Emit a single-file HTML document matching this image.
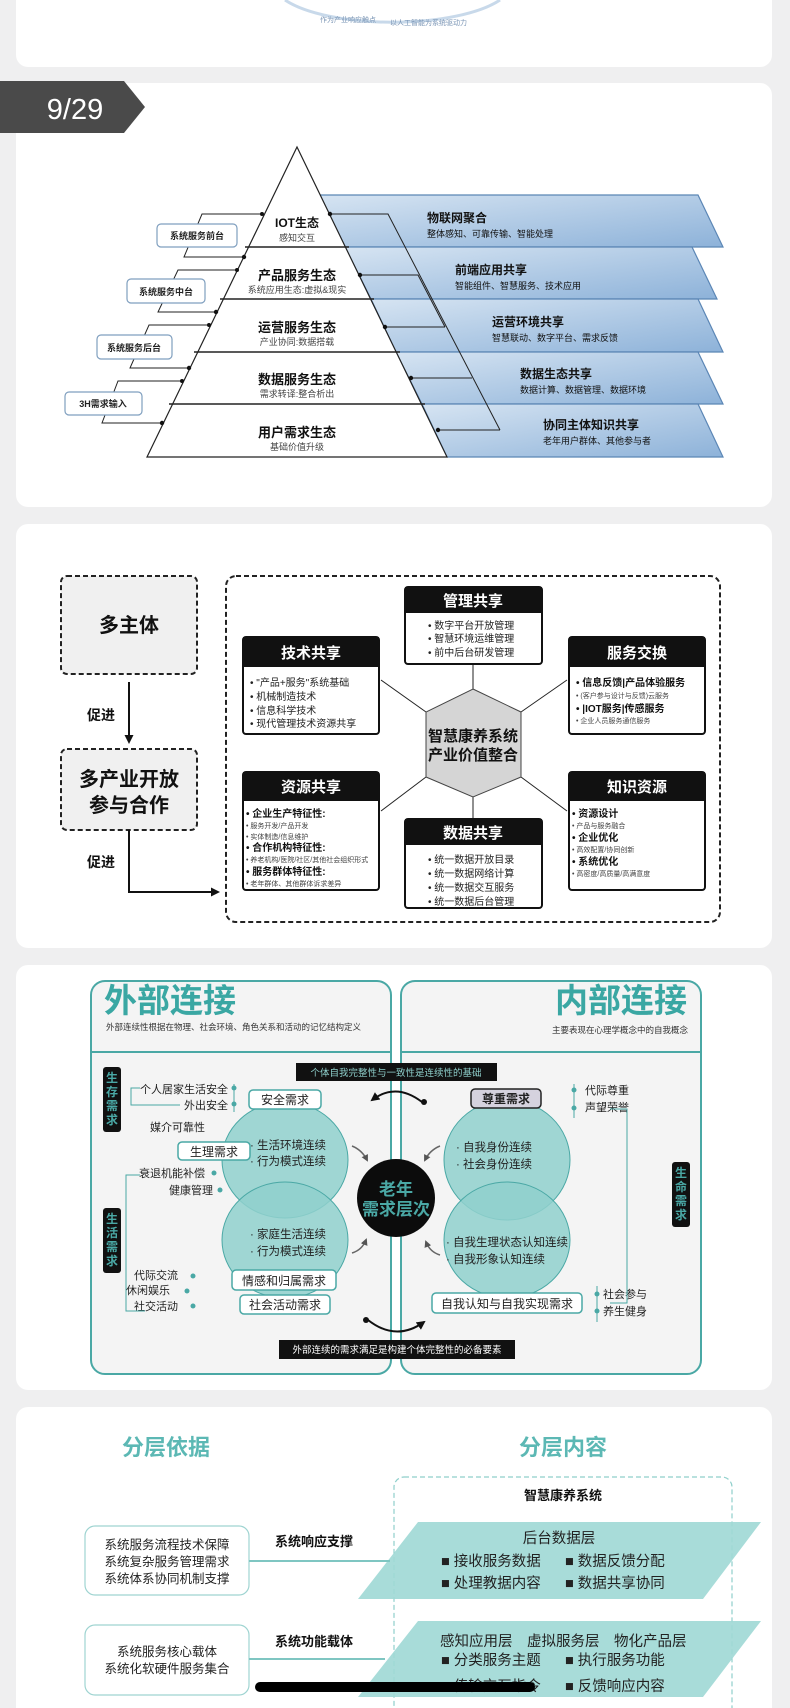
<!DOCTYPE html>
<html><head><meta charset="utf-8">
<style>
html,body{margin:0;padding:0;background:#efeff0;}
svg{display:block;font-family:"Liberation Sans","Noto Sans CJK SC",sans-serif;}
</style></head>
<body>
<svg width="790" height="1708" viewBox="0 0 790 1708" xmlns="http://www.w3.org/2000/svg">
<defs>
<linearGradient id="bl" x1="0" y1="0" x2="1" y2="1">
<stop offset="0" stop-color="#d6e4f2"/><stop offset="1" stop-color="#8db2d9"/></linearGradient>
<marker id="ah" markerUnits="userSpaceOnUse" markerWidth="9" markerHeight="9" refX="7" refY="4.5" orient="auto"><path d="M0,0 L9,4.5 L0,9 z" fill="#111"/></marker>
<marker id="ag" markerUnits="userSpaceOnUse" markerWidth="7" markerHeight="7" refX="5" refY="3.5" orient="auto"><path d="M0,0 L7,3.5 L0,7 z" fill="#555"/></marker>
</defs>
<rect width="790" height="1708" fill="#efeff0"/>
<!-- card 1 -->
<rect x="16" y="-20" width="756" height="87" rx="12" fill="#fff"/>
<path d="M285,0 A120,40 0 0 0 500,0" fill="none" stroke="#c8d9ea" stroke-width="3"/>
<text x="320" y="22" font-size="7" fill="#7a95b5">作为产业响应触点</text>
<text x="390" y="25" font-size="7" fill="#7a95b5">以人工智能为系统驱动力</text>
<!-- card 2 -->
<rect x="16" y="83" width="756" height="424" rx="12" fill="#fff"/>
<path d="M0,81 L124,81 L145,107 L124,133 L0,133 z" fill="#4a4a4a"/>
<text x="75" y="119" font-size="29" fill="#fff" text-anchor="middle">9/29</text>
<g stroke="#5b86b5" stroke-width="1.2" fill="url(#bl)">
<path d="M320,195 L698,195 L723,247 L345,247 z"/>
<path d="M345,247 L692,247 L717,299 L371,299 z"/>
<path d="M371,299 L698,299 L723,352 L396,352 z"/>
<path d="M396,352 L698,352 L723,404 L422,404 z"/>
<path d="M422,404 L698,404 L723,457 L447,457 z"/>
</g>
<path d="M297,147 L447,457 L147,457 z" fill="#fff" stroke="#222" stroke-width="1.2"/>
<g stroke="#222" stroke-width="1.5">
<line x1="245" y1="247" x2="349" y2="247"/><line x1="220" y1="299" x2="374" y2="299"/>
<line x1="194" y1="352" x2="400" y2="352"/><line x1="169" y1="404" x2="425" y2="404"/>
</g>
<g text-anchor="middle" fill="#111">
<text x="297" y="227" font-size="12" font-weight="bold">IOT生态</text><text x="297" y="241" font-size="9" fill="#444">感知交互</text>
<text x="297" y="280" font-size="13" font-weight="bold">产品服务生态</text><text x="297" y="293" font-size="9" fill="#444">系统应用生态:虚拟&amp;现实</text>
<text x="297" y="332" font-size="13" font-weight="bold">运营服务生态</text><text x="297" y="345" font-size="9" fill="#444">产业协同:数据搭载</text>
<text x="297" y="384" font-size="13" font-weight="bold">数据服务生态</text><text x="297" y="397" font-size="9" fill="#444">需求转译:整合析出</text>
<text x="297" y="437" font-size="13" font-weight="bold">用户需求生态</text><text x="297" y="450" font-size="9" fill="#444">基础价值升级</text>
</g>
<g fill="#111">
<text x="427" y="222" font-size="12" font-weight="bold">物联网聚合</text><text x="427" y="237" font-size="9">整体感知、可靠传输、智能处理</text>
<text x="455" y="274" font-size="12" font-weight="bold">前端应用共享</text><text x="455" y="289" font-size="9">智能组件、智慧服务、技术应用</text>
<text x="492" y="326" font-size="12" font-weight="bold">运营环境共享</text><text x="492" y="341" font-size="9">智慧联动、数字平台、需求反馈</text>
<text x="520" y="378" font-size="12" font-weight="bold">数据生态共享</text><text x="520" y="393" font-size="9">数据计算、数据管理、数据环境</text>
<text x="543" y="429" font-size="12" font-weight="bold">协同主体知识共享</text><text x="543" y="444" font-size="9">老年用户群体、其他参与者</text>
</g>
<g stroke="#222" stroke-width="1" fill="none">
<path d="M330,214 L388,214 L500,430"/><path d="M360,275 L418,275 L445,327"/>
<path d="M385,327 L445,327"/><path d="M411,378 L472,378"/><path d="M438,430 L500,430"/>
<path d="M262,214 L202,214 L184,257 L244,257"/>
<path d="M237,270 L178,270 L158,312 L216,312"/>
<path d="M209,325 L149,325 L130,368 L189,368"/>
<path d="M182,381 L118,381 L102,423 L162,423"/>
</g>
<g fill="#111"><circle cx="330" cy="214" r="2.2"/><circle cx="360" cy="275" r="2.2"/><circle cx="385" cy="327" r="2.2"/><circle cx="411" cy="378" r="2.2"/><circle cx="438" cy="430" r="2.2"/>
<circle cx="262" cy="214" r="2"/><circle cx="244" cy="257" r="2.2"/><circle cx="237" cy="270" r="2"/><circle cx="216" cy="312" r="2.2"/><circle cx="209" cy="325" r="2"/><circle cx="189" cy="368" r="2.2"/><circle cx="182" cy="381" r="2"/><circle cx="162" cy="423" r="2.2"/></g>
<g fill="#fff" stroke="#7f9fbf" stroke-width="1.2">
<rect x="157" y="224" width="80" height="23" rx="4"/><rect x="127" y="279" width="78" height="24" rx="4"/>
<rect x="97" y="335" width="75" height="24" rx="4"/><rect x="65" y="392" width="77" height="23" rx="4"/>
</g>
<g font-size="9" font-weight="bold" text-anchor="middle" fill="#222">
<text x="197" y="239">系统服务前台</text><text x="166" y="295">系统服务中台</text><text x="134" y="351">系统服务后台</text><text x="103" y="407">3H需求输入</text>
</g>
<!-- card 3 -->
<rect x="16" y="524" width="756" height="424" rx="12" fill="#fff"/>
<g stroke="#222" stroke-width="2" stroke-dasharray="5,3" fill="#f0f0f0">
<rect x="61" y="576" width="136" height="98" rx="6"/><rect x="61" y="749" width="136" height="81" rx="6"/>
<rect x="226" y="576" width="494" height="346" rx="10" fill="none"/>
</g>
<text x="129" y="632" font-size="20" font-weight="bold" text-anchor="middle" fill="#111">多主体</text>
<text x="129" y="786" font-size="20" font-weight="bold" text-anchor="middle" fill="#111">多产业开放</text>
<text x="129" y="812" font-size="20" font-weight="bold" text-anchor="middle" fill="#111">参与合作</text>
<text x="87" y="720" font-size="14" font-weight="bold" fill="#111">促进</text>
<text x="87" y="867" font-size="14" font-weight="bold" fill="#111">促进</text>
<line x1="129" y1="682" x2="129" y2="742" stroke="#111" stroke-width="2" marker-end="url(#ah)"/>
<path d="M129,830 L129,892 L218,892" fill="none" stroke="#111" stroke-width="2" marker-end="url(#ah)"/>
<g stroke="#222" stroke-width="1">
<line x1="473" y1="664" x2="473" y2="689"/><line x1="426" y1="712" x2="381" y2="680"/>
<line x1="521" y1="712" x2="567" y2="680"/><line x1="426" y1="777" x2="381" y2="811"/>
<line x1="521" y1="777" x2="567" y2="811"/><line x1="473" y1="797" x2="473" y2="819"/>
</g>
<path d="M473,689 L521,712 L521,777 L473,797 L426,777 L426,712 z" fill="#d5d5d5" stroke="#444"/>
<text x="473" y="741" font-size="15" font-weight="bold" text-anchor="middle" fill="#111">智慧康养系统</text>
<text x="473" y="760" font-size="15" font-weight="bold" text-anchor="middle" fill="#111">产业价值整合</text>
<g stroke="#111" stroke-width="2" fill="#fff">
<rect x="405" y="587" width="137" height="77" rx="3"/><rect x="243" y="637" width="136" height="97" rx="3"/>
<rect x="569" y="637" width="136" height="97" rx="3"/><rect x="243" y="772" width="136" height="118" rx="3"/>
<rect x="569" y="772" width="136" height="118" rx="3"/><rect x="405" y="819" width="137" height="89" rx="3"/>
</g>
<g fill="#111">
<rect x="405" y="587" width="137" height="26"/><rect x="243" y="637" width="136" height="30"/>
<rect x="569" y="637" width="136" height="30"/><rect x="243" y="772" width="136" height="29"/>
<rect x="569" y="772" width="136" height="29"/><rect x="405" y="819" width="137" height="26"/>
</g>
<g fill="#fff" font-size="15" font-weight="bold" text-anchor="middle">
<text x="473" y="606">管理共享</text><text x="311" y="658">技术共享</text><text x="637" y="658">服务交换</text>
<text x="311" y="792">资源共享</text><text x="637" y="792">知识资源</text><text x="473" y="838">数据共享</text>
</g>
<g fill="#222" font-size="10">
<text x="428" y="629">•  数字平台开放管理</text><text x="428" y="642">•  智慧环境运维管理</text><text x="428" y="656">•  前中后台研发管理</text>
<text x="250" y="686">•  "产品+服务"系统基础</text><text x="250" y="700">•  机械制造技术</text><text x="250" y="714">•  信息科学技术</text><text x="250" y="727">•  现代管理技术资源共享</text>
<text x="428" y="863">•  统一数据开放目录</text><text x="428" y="877">•  统一数据网络计算</text><text x="428" y="891">•  统一数据交互服务</text><text x="428" y="905">•  统一数据后台管理</text>
</g>
<g fill="#111">
<text x="576" y="686" font-size="10" font-weight="bold">•  信息反馈|产品体验服务</text>
<text x="576" y="698" font-size="7" fill="#444">•  (客户参与设计与反馈)云服务</text>
<text x="576" y="712" font-size="10" font-weight="bold">•  |IOT服务|传感服务</text>
<text x="576" y="723" font-size="7" fill="#444">•  企业人员服务通信服务</text>
<text x="246" y="817" font-size="10" font-weight="bold">•  企业生产特征性:</text>
<text x="246" y="828" font-size="7" fill="#444">•  服务开发/产品开发</text>
<text x="246" y="839" font-size="7" fill="#444">•  实体制造/信息维护</text>
<text x="246" y="851" font-size="10" font-weight="bold">•  合作机构特征性:</text>
<text x="246" y="862" font-size="7" fill="#444">•  养老机构/医院/社区/其他社会组织形式</text>
<text x="246" y="875" font-size="10" font-weight="bold">•  服务群体特征性:</text>
<text x="246" y="886" font-size="7" fill="#444">•  老年群体、其他群体诉求差异</text>
<text x="572" y="817" font-size="10" font-weight="bold">•  资源设计</text>
<text x="572" y="828" font-size="7" fill="#444">•  产品与服务融合</text>
<text x="572" y="841" font-size="10" font-weight="bold">•  企业优化</text>
<text x="572" y="852" font-size="7" fill="#444">•  高效配置/协同创新</text>
<text x="572" y="865" font-size="10" font-weight="bold">•  系统优化</text>
<text x="572" y="876" font-size="7" fill="#444">•  高密度/高质量/高满意度</text>
</g>
<!-- card 4 -->
<rect x="16" y="965" width="756" height="425" rx="12" fill="#fff"/>
<g fill="#f4f4f4" stroke="#4aa8a5" stroke-width="2">
<rect x="91" y="981" width="300" height="393" rx="14"/><rect x="401" y="981" width="300" height="393" rx="14"/>
</g>
<line x1="91" y1="1052" x2="391" y2="1052" stroke="#4aa8a5" stroke-width="2"/>
<line x1="401" y1="1052" x2="701" y2="1052" stroke="#4aa8a5" stroke-width="2"/>
<text x="104" y="1012" font-size="33" font-weight="bold" fill="#3aa7a3">外部连接</text>
<text x="687" y="1012" font-size="33" font-weight="bold" fill="#3aa7a3" text-anchor="end">内部连接</text>
<text x="106" y="1030" font-size="8.5" fill="#333">外部连续性根据在物理、社会环境、角色关系和活动的记忆结构定义</text>
<text x="688" y="1033" font-size="8.5" fill="#333" text-anchor="end">主要表现在心理学概念中的自我概念</text>
<g fill="#8fd0cc" fill-opacity="0.85" stroke="#4aa8a5" stroke-width="1">
<ellipse cx="285" cy="1160" rx="63" ry="58"/><ellipse cx="285" cy="1240" rx="63" ry="58"/>
<ellipse cx="507" cy="1160" rx="63" ry="60"/><ellipse cx="507" cy="1240" rx="63" ry="58"/>
</g>
<circle cx="396" cy="1198" r="39" fill="#0c0c0c"/>
<text x="396" y="1195" font-size="17" font-weight="bold" fill="#4aa8a5" text-anchor="middle">老年</text>
<text x="396" y="1215" font-size="17" font-weight="bold" fill="#4aa8a5" text-anchor="middle">需求层次</text>
<rect x="296" y="1063" width="201" height="18" fill="#111"/>
<text x="396" y="1076" font-size="9.5" fill="#8fd0cc" text-anchor="middle">个体自我完整性与一致性是连续性的基础</text>
<rect x="279" y="1340" width="236" height="19" fill="#111"/>
<text x="397" y="1353" font-size="9.5" fill="#fff" text-anchor="middle">外部连续的需求满足是构建个体完整性的必备要素</text>
<g fill="none" stroke="#111" stroke-width="2">
<path d="M422,1102 Q396,1082 372,1100" marker-end="url(#ah)"/>
<path d="M368,1320 Q396,1342 424,1322" marker-end="url(#ah)"/>
</g>
<g fill="none" stroke="#666" stroke-width="1.5">
<path d="M352,1146 Q362,1150 367,1160" marker-end="url(#ag)"/>
<path d="M440,1146 Q430,1150 425,1160" marker-end="url(#ag)"/>
<path d="M352,1253 Q362,1250 366,1240" marker-end="url(#ag)"/>
<path d="M440,1255 Q430,1252 426,1242" marker-end="url(#ag)"/>
</g>
<circle cx="424" cy="1102" r="3" fill="#111"/><circle cx="366" cy="1320" r="3" fill="#111"/>
<g fill="#fff" stroke="#4aa8a5" stroke-width="1.5">
<rect x="249" y="1090" width="72" height="19" rx="4"/><rect x="178" y="1142" width="72" height="18" rx="4"/>
<rect x="232" y="1270" width="104" height="20" rx="4"/><rect x="240" y="1295" width="90" height="19" rx="4"/>
<rect x="432" y="1293" width="150" height="20" rx="4"/>
<rect x="471" y="1089" width="70" height="19" rx="4" fill="#d5d2de" stroke="#222"/>
</g>
<g font-size="12" fill="#222" text-anchor="middle">
<text x="285" y="1104">安全需求</text><text x="214" y="1156">生理需求</text><text x="284" y="1285">情感和归属需求</text>
<text x="285" y="1309">社会活动需求</text><text x="507" y="1308">自我认知与自我实现需求</text>
<text x="506" y="1103" font-weight="bold">尊重需求</text>
</g>
<g font-size="11.5" fill="#222">
<text x="250" y="1149">· 生活环境连续</text><text x="250" y="1165">· 行为模式连续</text>
<text x="250" y="1238">· 家庭生活连续</text><text x="250" y="1255">· 行为模式连续</text>
<text x="456" y="1151">· 自我身份连续</text><text x="456" y="1168">· 社会身份连续</text>
<text x="446" y="1246">· 自我生理状态认知连续</text><text x="446" y="1263">· 自我形象认知连续</text>
</g>
<g font-size="11" fill="#222" text-anchor="end">
<text x="228" y="1093">个人居家生活安全</text><text x="228" y="1109">外出安全</text><text x="205" y="1131">媒介可靠性</text>
<text x="205" y="1177">衰退机能补偿</text><text x="213" y="1194">健康管理</text>
<text x="178" y="1279">代际交流</text><text x="170" y="1294">休闲娱乐</text><text x="178" y="1310">社交活动</text>
</g>
<g font-size="11" fill="#222">
<text x="585" y="1094">代际尊重</text><text x="585" y="1111">声望荣誉</text>
<text x="603" y="1298">社会参与</text><text x="603" y="1315">养生健身</text>
</g>
<g fill="none" stroke="#4aa8a5" stroke-width="1">
<path d="M140,1088 L131,1088 L131,1105 L180,1105"/><path d="M140,1175 L126,1175 L126,1311 L145,1311"/>
<path d="M610,1109 L627,1109 L627,1303 L610,1303"/>
<line x1="234" y1="1084" x2="234" y2="1112"/><line x1="574" y1="1084" x2="574" y2="1118"/><line x1="597" y1="1286" x2="597" y2="1322"/>
</g>
<g fill="#4aa8a5"><circle cx="234" cy="1088" r="2.5"/><circle cx="234" cy="1104" r="2.5"/><circle cx="214" cy="1173" r="2.5"/><circle cx="220" cy="1190" r="2.5"/>
<circle cx="574" cy="1090" r="2.5"/><circle cx="574" cy="1108" r="2.5"/><circle cx="597" cy="1294" r="2.5"/><circle cx="597" cy="1311" r="2.5"/>
<circle cx="193" cy="1276" r="2.5"/><circle cx="187" cy="1291" r="2.5"/><circle cx="193" cy="1306" r="2.5"/></g>
<g fill="#111"><rect x="103" y="1067" width="18" height="65" rx="3"/><rect x="103" y="1208" width="18" height="65" rx="3"/><rect x="672" y="1162" width="18" height="65" rx="3"/></g>
<g fill="#4aa8a5" font-size="12" font-weight="bold" text-anchor="middle">
<text x="112" y="1082">生</text><text x="112" y="1096">存</text><text x="112" y="1110">需</text><text x="112" y="1124">求</text>
<text x="112" y="1223">生</text><text x="112" y="1237">活</text><text x="112" y="1251">需</text><text x="112" y="1265">求</text>
<text x="681" y="1177">生</text><text x="681" y="1191">命</text><text x="681" y="1205">需</text><text x="681" y="1219">求</text>
</g>
<!-- card 5 -->
<rect x="16" y="1407" width="756" height="320" rx="12" fill="#fff"/>
<text x="166" y="1455" font-size="22" font-weight="bold" fill="#5cb8b4" text-anchor="middle">分层依据</text>
<text x="563" y="1455" font-size="22" font-weight="bold" fill="#5cb8b4" text-anchor="middle">分层内容</text>
<rect x="394" y="1477" width="338" height="260" rx="10" fill="none" stroke="#8fcfcb" stroke-width="1.2" stroke-dasharray="5,3"/>
<text x="563" y="1500" font-size="13" font-weight="bold" fill="#111" text-anchor="middle">智慧康养系统</text>
<path d="M418,1522 L761,1522 L703,1599 L358,1599 z" fill="#9ed8d5" fill-opacity="0.9"/>
<path d="M418,1621 L761,1621 L703,1697 L358,1697 z" fill="#9ed8d5" fill-opacity="0.9"/>
<g font-size="14.5" fill="#222">
<text x="559" y="1543" text-anchor="middle">后台数据层</text>
<text x="441" y="1566">■ 接收服务数据</text><text x="565" y="1566">■ 数据反馈分配</text>
<text x="441" y="1588">■ 处理教据内容</text><text x="565" y="1588">■ 数据共享协同</text>
<text x="440" y="1646">感知应用层　虚拟服务层　物化产品层</text>
<text x="441" y="1665">■ 分类服务主题</text><text x="565" y="1665">■ 执行服务功能</text>
<text x="441" y="1691">■ 传输交互指令</text><text x="565" y="1691">■ 反馈响应内容</text>
</g>
<g fill="#fff" stroke="#9fd4d1" stroke-width="1.2">
<rect x="85" y="1526" width="164" height="69" rx="10"/><rect x="85" y="1625" width="164" height="70" rx="10"/>
</g>
<line x1="249" y1="1561" x2="390" y2="1561" stroke="#7fc6c2" stroke-width="2"/>
<line x1="249" y1="1659" x2="385" y2="1659" stroke="#7fc6c2" stroke-width="2"/>
<g font-size="12.5" fill="#222" text-anchor="middle">
<text x="167" y="1549">系统服务流程技术保障</text><text x="167" y="1566">系统复杂服务管理需求</text><text x="167" y="1583">系统体系协同机制支撑</text>
<text x="167" y="1656">系统服务核心载体</text><text x="167" y="1673">系统化软硬件服务集合</text>
</g>
<text x="275" y="1546" font-size="13" font-weight="bold" fill="#111">系统响应支撑</text>
<text x="275" y="1646" font-size="13" font-weight="bold" fill="#111">系统功能载体</text>
<rect x="255" y="1682" width="280" height="10" rx="5" fill="#000"/>
</svg>
</body></html>
